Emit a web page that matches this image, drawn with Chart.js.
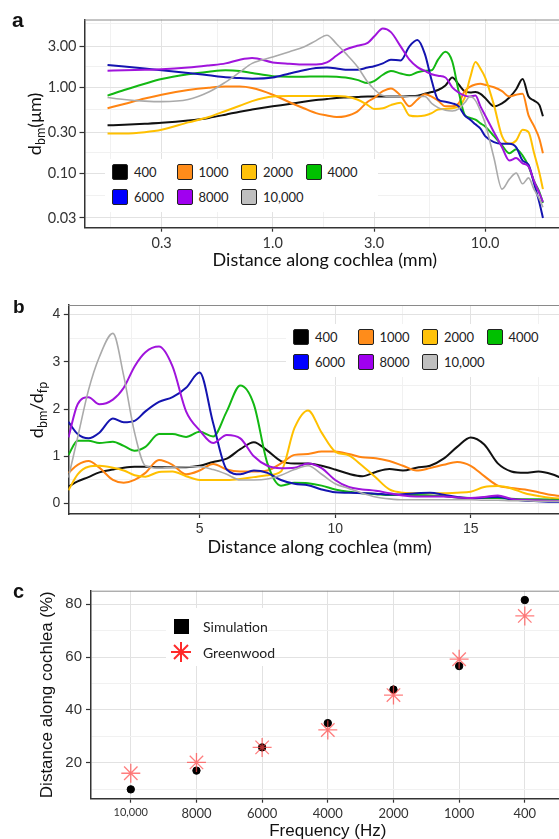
<!DOCTYPE html>
<html>
<head>
<meta charset="utf-8">
<title>Basilar membrane displacement along the cochlea</title>
<script src="https://cdn.jsdelivr.net/npm/chart.js@4.4.1/dist/chart.umd.min.js"></script>
<style>
  html, body { margin: 0; padding: 0; background: #fff; }
  body { position: relative; width: 559px; height: 839px; overflow: hidden; font-family: Lato, sans-serif; color: #222; }
  canvas { position: absolute; left: 0; }
  .tag { position: absolute; font-family: "Liberation Sans", Arial, sans-serif; font-weight: bold; line-height: 1; color: #111; }
  .ytitle { position: absolute; transform: translate(-50%, -50%) rotate(-90deg); white-space: nowrap; font-size: 18px; line-height: 1; color: #111; }
  .ytitle sub { font-size: 70%; vertical-align: -0.3em; line-height: 0; }
  .legend { position: absolute; display: grid; grid-template-columns: repeat(4, 64.5px); background: #fff; font-size: 13px; color: #222; }
  .legend .item { display: flex; align-items: center; height: 25.6px; }
  .legend .key { width: 16px; height: 16px; border: 1.5px solid #222; border-radius: 2px; box-sizing: border-box; margin-right: 6px; }
  #legendC { position: absolute; background: #fff; font-size: 14px; color: #222; }
  #legendC .row { position: absolute; left: 0; display: flex; align-items: center; height: 24px; }
</style>
</head>
<body>
<canvas id="chartA" width="600" height="280" style="top:0"></canvas>
<canvas id="chartB" width="600" height="280" style="top:280px"></canvas>
<canvas id="chartC" width="600" height="290" style="top:560px"></canvas>

<div class="tag" style="left:12px;top:9px;font-size:21px">a</div>
<div class="tag" style="left:13px;top:297px;font-size:19px">b</div>
<div class="tag" style="left:13px;top:581px;font-size:20px">c</div>
<div class="ytitle" style="left:34px;top:124px">d<sub>bm</sub>(μm)</div>
<div class="ytitle" style="left:36px;top:410px">d<sub>bm</sub>/d<sub>fp</sub></div>
<div id="legendA" class="legend" style="left:105px;top:159px;padding:0 8px 2px 7px"></div>
<div id="legendB" class="legend" style="left:286px;top:324px;padding:0 8px 2px 7px"></div>
<div id="legendC" style="left:166px;top:608px;width:100px;height:58px"></div>

<script>
// stimulus frequencies (Hz) used for the series in panels a and b
const freqLabels = ["400", "1000", "2000", "4000", "6000", "8000", "10,000"];
const lineColors = ["#111111", "#ff8412", "#ffc000", "#13b813", "#1414b0", "#a014dc", "#aaaaaa"];
const keyColors = ["#000000", "#ff8c1a", "#ffc20a", "#00c000", "#0000ff", "#a000f0", "#bfbfbf"];

// panel a: d_bm (um) vs distance along cochlea (mm), log-log
const aX = [0.167, 0.2, 0.25, 0.3, 0.4, 0.5, 0.6, 0.7, 0.8, 1.0, 1.2, 1.4, 1.6, 1.8, 2.0, 2.2, 2.5, 2.8, 3.0, 3.3, 3.6,
  4.0, 4.4, 4.8, 5.2, 5.6, 6.0, 6.5, 7.0, 7.5, 8.0, 8.5, 9.0, 9.5, 10, 11, 12, 13, 14, 15, 16, 17, 18, 18.7];
const aY400 = [0.36, 0.365, 0.375, 0.385, 0.41, 0.44, 0.48, 0.52, 0.55, 0.6, 0.64, 0.68, 0.71, 0.73, 0.75, 0.76, 0.77, 0.78, 0.78, 0.78, 0.78,
  0.78, 0.79, 0.8, 0.84, 0.88, 0.93, 1.05, 1.3, 1.08, 0.9, 0.87, 0.88, 0.84, 0.75, 0.6, 0.65, 0.76, 0.95, 1.25, 0.78, 0.7, 0.62, 0.46];
const aY1000 = [0.57, 0.64, 0.74, 0.82, 0.93, 0.99, 1.02, 1.02, 0.98, 0.82, 0.67, 0.57, 0.5, 0.47, 0.45, 0.46, 0.52, 0.68, 0.75, 0.9, 0.97,
  0.8, 0.6, 0.72, 0.83, 0.78, 0.7, 0.6, 0.6, 0.65, 0.9, 1.02, 1.08, 1.1, 1.07, 1.0, 0.9, 0.78, 0.82, 0.84, 0.47, 0.35, 0.25, 0.17];
const aY2000 = [0.29, 0.29, 0.3, 0.32, 0.39, 0.45, 0.53, 0.61, 0.69, 0.78, 0.79, 0.79, 0.79, 0.79, 0.79, 0.78, 0.72, 0.62, 0.56, 0.57, 0.62,
  0.66, 0.47, 0.46, 0.47, 0.5, 0.55, 0.56, 0.57, 0.6, 0.75, 1.3, 1.97, 1.65, 1.3, 0.62, 0.27, 0.22, 0.24, 0.32, 0.3, 0.17, 0.1, 0.065];
const aY4000 = [0.8, 0.93, 1.1, 1.25, 1.42, 1.52, 1.58, 1.55, 1.47, 1.35, 1.33, 1.33, 1.34, 1.34, 1.33, 1.3, 1.22, 1.12, 1.18, 1.4, 1.55,
  1.45, 1.38, 1.5, 1.56, 1.58, 2.1, 2.6, 2.0, 0.9, 0.48, 0.44, 0.42, 0.38, 0.35, 0.27, 0.21, 0.17, 0.19, 0.16, 0.12, 0.08, 0.06, 0.045];
const aY6000 = [1.82, 1.75, 1.66, 1.58, 1.47, 1.38, 1.31, 1.28, 1.26, 1.3, 1.45, 1.58, 1.68, 1.7, 1.66, 1.6, 1.6, 1.7, 1.76, 1.9, 2.1,
  2.05, 3.0, 3.55, 2.45, 1.2, 0.72, 0.68, 0.65, 0.6, 0.47, 0.42, 0.37, 0.33, 0.27, 0.23, 0.22, 0.22, 0.2, 0.14, 0.125, 0.075, 0.045, 0.03];
const aY8000 = [1.56, 1.58, 1.6, 1.62, 1.7, 1.8, 1.9, 2.1, 2.2, 1.95, 1.88, 1.84, 1.84, 1.95, 2.35, 2.75, 3.05, 3.3, 3.9, 4.85, 4.4,
  3.0, 2.1, 1.72, 1.55, 1.42, 1.36, 1.3, 1.0, 0.87, 0.8, 0.78, 0.8, 0.6, 0.47, 0.3, 0.2, 0.14, 0.15, 0.13, 0.12, 0.08, 0.058, 0.046];
const aY10000 = [0.76, 0.72, 0.69, 0.68, 0.72, 0.88, 1.15, 1.5, 1.9, 2.25, 2.6, 2.95, 3.5, 4.05, 3.2, 2.5, 1.75, 1.15, 0.95, 0.8, 0.78,
  0.78, 0.78, 0.78, 0.78, 0.65, 0.58, 0.54, 0.53, 0.56, 0.66, 0.78, 0.7, 0.53, 0.38, 0.15, 0.065, 0.085, 0.1, 0.075, 0.088, 0.064, 0.05, 0.04];
const aXTicks = [0.3, 1, 3, 10];
const aXTickLabels = ["0.3", "1.0", "3.0", "10.0"];
const aXMinor = [0.173, 0.548, 1.73, 5.48, 17.3];
const aYTicks = [0.03, 0.1, 0.3, 1, 3];
const aYTickLabels = ["0.03", "0.10", "0.30", "1.00", "3.00"];
const aYMinor = [0.0548, 0.173, 0.548, 1.73, 5.48];

// panel b: d_bm / d_fp vs distance along cochlea (mm)
const bX = [0.16, 0.5, 0.9, 1.3, 1.8, 2.2, 2.6, 3.0, 3.5, 4.0, 4.5, 5.0, 5.5, 6.0, 6.5, 7.0, 7.5, 8.0, 8.5, 9.0,
  9.5, 10, 10.5, 11, 11.5, 12, 12.5, 13, 13.5, 14, 14.5, 15, 15.5, 16, 16.5, 17, 17.5, 18, 18.7];
const bY400 = [0.36, 0.47, 0.56, 0.66, 0.72, 0.76, 0.78, 0.78, 0.77, 0.77, 0.77, 0.8, 0.88, 0.95, 1.15, 1.3, 1.12, 0.9, 0.85, 0.85,
  0.8, 0.72, 0.63, 0.58, 0.67, 0.73, 0.7, 0.76, 0.8, 0.95, 1.2, 1.4, 1.25, 0.85, 0.68, 0.65, 0.68, 0.62, 0.45];
const bY1000 = [0.65, 0.82, 0.9, 0.76, 0.5, 0.44, 0.5, 0.65, 0.92, 0.82, 0.62, 0.7, 0.84, 0.72, 0.68, 0.68, 0.7, 0.85, 1.03, 1.05,
  1.1, 1.1, 1.05, 0.98, 0.96, 0.9, 0.8, 0.7, 0.75, 0.82, 0.88, 0.8, 0.58, 0.38, 0.33, 0.3, 0.24, 0.18, 0.14];
const bY2000 = [0.28, 0.62, 0.78, 0.8, 0.76, 0.7, 0.6, 0.57, 0.67, 0.68, 0.58, 0.5, 0.5, 0.5, 0.52, 0.56, 0.6, 0.68, 1.6, 1.97,
  1.5, 1.1, 1.02, 0.8, 0.55, 0.3, 0.23, 0.22, 0.22, 0.22, 0.23, 0.25, 0.35, 0.37, 0.32, 0.22, 0.16, 0.12, 0.1];
const bY4000 = [1.03, 1.33, 1.33, 1.28, 1.31, 1.22, 1.12, 1.2, 1.47, 1.47, 1.41, 1.52, 1.42, 1.95, 2.5, 2.1, 0.85, 0.38, 0.44, 0.43,
  0.38, 0.3, 0.25, 0.22, 0.2, 0.18, 0.18, 0.18, 0.17, 0.16, 0.13, 0.12, 0.12, 0.12, 0.1, 0.09, 0.09, 0.08, 0.07];
const bY6000 = [1.73, 1.47, 1.38, 1.5, 1.8, 1.72, 1.75, 1.95, 2.15, 2.25, 2.45, 2.77, 1.7, 0.72, 0.62, 0.7, 0.65, 0.5, 0.42, 0.39,
  0.3, 0.24, 0.23, 0.22, 0.21, 0.19, 0.2, 0.22, 0.23, 0.19, 0.14, 0.11, 0.13, 0.14, 0.09, 0.06, 0.05, 0.04, 0.04];
const bY8000 = [1.4, 2.1, 2.25, 2.1, 2.2, 2.45, 2.9, 3.2, 3.32, 2.9, 1.95, 1.55, 1.28, 1.45, 1.38, 1.0, 0.8, 0.75, 0.76, 0.85,
  0.75, 0.5, 0.35, 0.3, 0.27, 0.22, 0.17, 0.15, 0.15, 0.15, 0.13, 0.12, 0.14, 0.17, 0.1, 0.08, 0.07, 0.06, 0.05];
const bY10000 = [0.55, 1.4, 2.4, 3.1, 3.6, 2.7, 1.5, 0.8, 0.75, 0.77, 0.78, 0.78, 0.72, 0.62, 0.5, 0.5, 0.52, 0.6, 0.72, 0.8,
  0.62, 0.42, 0.32, 0.22, 0.14, 0.1, 0.08, 0.08, 0.08, 0.08, 0.08, 0.08, 0.07, 0.07, 0.06, 0.06, 0.05, 0.05, 0.05];
const bXTicks = [5, 10, 15];
const bXTickLabels = ["5", "10", "15"];
const bXMinor = [2.5, 7.5, 12.5, 17.5];
const bYTicks = [0, 1, 2, 3, 4];
const bYTickLabels = ["0", "1", "2", "3", "4"];
const bYMinor = [0.5, 1.5, 2.5, 3.5];

// panel c: best place (% of cochlea length) per frequency
const cFreqs = ["10,000", "8000", "6000", "4000", "2000", "1000", "400"];
const cSimulation = [9.9, 17.0, 25.8, 35.0, 47.7, 56.6, 81.6];
const cGreenwood = [16.0, 20.1, 25.8, 32.4, 45.6, 59.2, 75.6];
const cYTicks = [20, 40, 60, 80];
const cYTickLabels = ["20", "40", "60", "80"];
const cYMinor = [10, 30, 50, 70];

const MAJOR_GRID = "#e2e2e2";
const MINOR_GRID = "#f1f1f1";
const AXIS_DARK = "#333333";

Chart.defaults.font.family = "Lato";

// scale with fixed major/minor gridlines and a fixed box size
function makeScale(o) {
  const minor = o.minor || [];
  return {
    type: o.type,
    min: o.min,
    max: o.max,
    bounds: "data",
    offset: false,
    afterBuildTicks: (s) => {
      s.ticks = o.major.concat(minor).sort((a, b) => a - b).map(v => ({ value: v }));
    },
    afterFit: (s) => {
      if (o.width) s.width = o.width;
      if (o.height) s.height = o.height;
    },
    grid: {
      color: (ctx) => o.major.includes(ctx.tick.value) ? MAJOR_GRID : MINOR_GRID,
      tickColor: (ctx) => o.major.includes(ctx.tick.value) ? AXIS_DARK : "rgba(0,0,0,0)",
      lineWidth: 1,
      tickLength: o.tickLength,
      tickWidth: 1.2
    },
    border: { display: true, color: AXIS_DARK, width: 1.5 },
    ticks: {
      autoSkip: false,
      maxRotation: 0,
      minRotation: 0,
      color: "#333",
      padding: o.pad,
      font: o.font,
      callback: (v) => {
        const i = o.major.indexOf(v);
        return i < 0 ? "" : o.labels[i];
      }
    },
    title: o.title || { display: false }
  };
}

// gray panel border on top and right
const panelBorder = {
  id: "panelBorder",
  afterDatasetsDraw(chart) {
    const { ctx, chartArea: a } = chart;
    ctx.save();
    ctx.strokeStyle = "#8a8a8a";
    ctx.lineWidth = 1;
    ctx.beginPath();
    ctx.moveTo(a.left, a.top + 0.5);
    ctx.lineTo(a.right, a.top + 0.5);
    ctx.lineTo(a.right, a.bottom);
    ctx.stroke();
    ctx.restore();
  }
};

function lineSets(xs, series) {
  return series.map((ys, i) => ({
    label: freqLabels[i],
    data: ys.map((y, k) => ({ x: xs[k], y: y })),
    borderColor: lineColors[i],
    borderWidth: i === 6 ? 1.6 : 2,
    pointRadius: 0,
    fill: false,
    cubicInterpolationMode: "monotone",
    order: 6 - i
  }));
}

const baseOptions = {
  responsive: false,
  animation: false,
  devicePixelRatio: 1,
  plugins: { legend: { display: false }, tooltip: { enabled: false } }
};

// panel a
new Chart(document.getElementById("chartA"), {
  type: "line",
  data: { datasets: lineSets(aX, [aY400, aY1000, aY2000, aY4000, aY6000, aY8000, aY10000]) },
  options: Object.assign({}, baseOptions, {
    layout: { padding: { top: 19.5, right: 35, left: 0, bottom: 0 } },
    scales: {
      x: makeScale({
        type: "logarithmic", min: 0.1301, max: 23.75, major: aXTicks, labels: aXTickLabels, minor: aXMinor,
        height: 52.3, tickLength: 4, pad: 3, font: { family: "Lato", size: 14.5 },
        title: { display: true, text: "Distance along cochlea (mm)", color: "#111",
          font: { family: "Lato", size: 18 }, padding: { top: 0, bottom: 9.2 } }
      }),
      y: makeScale({
        type: "logarithmic", min: 0.0231, max: 6.17, major: aYTicks, labels: aYTickLabels, minor: aYMinor,
        width: 84.5, tickLength: 5, pad: 3, font: { family: "Lato", size: 14.5 }
      })
    }
  }),
  plugins: [panelBorder]
});

// panel b
new Chart(document.getElementById("chartB"), {
  type: "line",
  data: { datasets: lineSets(bX, [bY400, bY1000, bY2000, bY4000, bY6000, bY8000, bY10000]) },
  options: Object.assign({}, baseOptions, {
    layout: { padding: { top: 25, right: 29, left: 0, bottom: 0 } },
    scales: {
      x: makeScale({
        type: "linear", min: 0.155, max: 18.7, major: bXTicks, labels: bXTickLabels, minor: bXMinor,
        height: 46, tickLength: 4, pad: 3, font: { family: "Liberation Sans", size: 14 },
        title: { display: true, text: "Distance along cochlea (mm)", color: "#111",
          font: { family: "Lato", size: 18 }, padding: { top: 0, bottom: 2.2 } }
      }),
      y: makeScale({
        type: "linear", min: -0.22, max: 4.2, major: bYTicks, labels: bYTickLabels, minor: bYMinor,
        width: 68.3, tickLength: 4.5, pad: 3.5, font: { family: "Liberation Sans", size: 14 }
      })
    }
  }),
  plugins: [panelBorder]
});

// panel c
new Chart(document.getElementById("chartC"), {
  type: "scatter",
  data: {
    datasets: [
      {
        label: "Greenwood",
        data: cGreenwood.map((y, i) => ({ x: i, y: y })),
        pointStyle: "star",
        pointRadius: 9.5,
        borderColor: "rgba(255, 70, 70, 0.7)",
        backgroundColor: "rgba(255, 70, 70, 0.7)",
        pointBorderWidth: 1.3,
        order: 0
      },
      {
        label: "Simulation",
        data: cSimulation.map((y, i) => ({ x: i, y: y })),
        pointStyle: "circle",
        pointRadius: 3.7,
        borderColor: "#000",
        backgroundColor: "#000",
        order: 1
      }
    ]
  },
  options: Object.assign({}, baseOptions, {
    layout: { padding: { top: 30.7, right: 35.4, left: 0, bottom: 0 } },
    scales: {
      x: makeScale({
        type: "linear", min: -0.606, max: 6.606, major: [0, 1, 2, 3, 4, 5, 6], labels: cFreqs,
        height: 51.3, tickLength: 4, pad: 3,
        // the 10,000 label is set smaller in the figure
        font: (ctx) => ({ family: "Lato", size: ctx.index === 0 ? 11 : 13 }),
        title: { display: true, text: "Frequency (Hz)", color: "#111",
          font: { family: "Liberation Sans", size: 17 }, padding: { top: 0, bottom: 8.1 } }
      }),
      y: makeScale({
        type: "linear", min: 6.36, max: 85.15, major: cYTicks, labels: cYTickLabels, minor: cYMinor,
        width: 91, tickLength: 5, pad: 4, font: { family: "Liberation Sans", size: 15 },
        title: { display: true, text: "Distance along cochlea (%)", color: "#111",
          font: { family: "Liberation Sans", size: 17 }, padding: { top: 36.8, bottom: 0 } }
      })
    }
  }),
  plugins: [panelBorder]
});

// legends for panels a and b
function buildLegend(id) {
  const box = document.getElementById(id);
  freqLabels.forEach((lab, i) => {
    const item = document.createElement("div");
    item.className = "item";
    const key = document.createElement("span");
    key.className = "key";
    key.style.background = keyColors[i];
    const txt = document.createElement("span");
    txt.textContent = lab;
    item.appendChild(key);
    item.appendChild(txt);
    box.appendChild(item);
  });
}
buildLegend("legendA");
buildLegend("legendB");

// legend for panel c
const cSeriesNames = ["Simulation", "Greenwood"];
const legendC = document.getElementById("legendC");
cSeriesNames.forEach((name, i) => {
  const row = document.createElement("div");
  row.className = "row";
  row.style.top = (i === 0 ? 6 : 32) + "px";
  const mark = i === 0
    ? '<span style="display:inline-block;width:15px;height:15px;background:#000;margin:0 14px 0 8px"></span>'
    : '<svg width="22" height="22" style="margin:0 11px 0 4px" viewBox="-11 -11 22 22">' +
      '<g stroke="#ff2a2a" stroke-width="2"><line x1="-10" y1="0" x2="10" y2="0"/><line x1="0" y1="-10" x2="0" y2="10"/>' +
      '<line x1="-7" y1="-7" x2="7" y2="7"/><line x1="-7" y1="7" x2="7" y2="-7"/></g></svg>';
  row.innerHTML = mark + "<span>" + name + "</span>";
  legendC.appendChild(row);
});
</script>
</body>
</html>
